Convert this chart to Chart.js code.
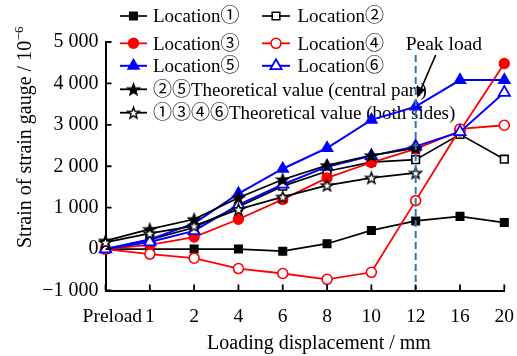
<!DOCTYPE html>
<html><head><meta charset="utf-8">
<script src="https://cdn.jsdelivr.net/npm/chart.js@4.4.0/dist/chart.umd.min.js"></script>
<style>html,body{margin:0;padding:0;background:#fff;}#wrap{width:517px;height:356px;}</style>
</head><body><div id="wrap"><canvas id="c" width="517" height="356"></canvas></div>
<script>
const categories = ['Preload', '1', '2', '4', '6', '8', '10', '12', '16', '20'];
const loc1 = [0, 0, 0, 0, -50, 130, 450, 680, 790, 640];
const loc2 = [0, 230, 520, 1020, 1520, 1880, 2100, 2160, 2770, 2170];
const loc3 = [0, 100, 290, 720, 1200, 1720, 2090, 2420, 2850, 4480];
const loc4 = [0, -120, -220, -470, -590, -730, -560, 1170, 2900, 2990];
const loc5 = [0, 230, 620, 1340, 1940, 2440, 3120, 3440, 4080, 4080];
const loc6 = [0, 170, 440, 1070, 1560, 1990, 2250, 2480, 2830, 3780];
const theoryCentral = [200, 480, 720, 1240, 1680, 2020, 2260, 2440];
const theorySides = [160, 380, 560, 960, 1260, 1540, 1720, 1840];
const yTickLabels = ['\u22121 000', '0', '1 000', '2 000', '3 000', '4 000', '5 000'];
const peakCategory = '12';
const seriesNames = ['Location\u2460', 'Location\u2461', 'Location\u2462', 'Location\u2463', 'Location\u2464', 'Location\u2465',
  '\u2461\u2464Theoretical value (central part)', '\u2460\u2462\u2463\u2465Theoretical value (both sides)'];

const FONT = "'Liberation Serif', 'Times New Roman', 'Noto Sans CJK SC', serif";

function makeStar(filled) {
  const s = 15, c = document.createElement('canvas');
  c.width = s; c.height = s;
  const g = c.getContext('2d');
  const R = 6.0, r = 2.5, cx = s / 2, cy = s / 2 + 0.6;
  g.beginPath();
  for (let i = 0; i < 10; i++) {
    const rad = i % 2 === 0 ? R : r;
    const a = -Math.PI / 2 + i * Math.PI / 5;
    const x = cx + rad * Math.cos(a), y = cy + rad * Math.sin(a);
    i === 0 ? g.moveTo(x, y) : g.lineTo(x, y);
  }
  g.closePath();
  g.fillStyle = filled ? '#000' : '#fff';
  g.fill();
  g.lineWidth = 1.4; g.strokeStyle = '#000'; g.lineJoin = 'miter';
  g.stroke();
  return c;
}
const starFilled = makeStar(true), starOpen = makeStar(false);

const defs = [
  {data: loc1, color: '#000', style: 'rect', fill: '#000', r: 5.4, bw: 1.4, lw: 1.7},
  {data: loc2, color: '#000', style: 'rect', fill: '#fff', r: 5.4, bw: 1.6, lw: 1.7},
  {data: loc3, color: '#ff0000', style: 'circle', fill: '#ff0000', r: 5, bw: 1.4, lw: 1.8},
  {data: loc4, color: '#ff0000', style: 'circle', fill: '#fff', r: 5, bw: 1.6, lw: 1.8},
  {data: loc5, color: '#0000ff', style: 'triangle', fill: '#0000ff', r: 6.5, bw: 1.4, lw: 2},
  {data: loc6, color: '#0000ff', style: 'triangle', fill: '#fff', r: 6.5, bw: 1.8, lw: 2},
  {data: theoryCentral, color: '#000', style: starFilled, fill: '#000', r: 6, bw: 1, lw: 1.8},
  {data: theorySides, color: '#000', style: starOpen, fill: '#fff', r: 6, bw: 1, lw: 1.8},
];

const datasets = defs.map((d, i) => ({
  label: seriesNames[i], data: d.data, borderColor: d.color, backgroundColor: d.fill,
  borderWidth: d.lw, pointStyle: d.style, pointRadius: d.r, pointBorderWidth: d.bw,
  pointBackgroundColor: d.fill, pointBorderColor: d.color, tension: 0, clip: false,
  order: 20 - i, spanGaps: false
}));

const CA = {left: 105.5, right: 504.3, top: 42, bottom: 290.5};

function drawLegendItem(ctx, d, lx0, lx1, y, text, tx) {
  ctx.save();
  ctx.strokeStyle = d.color; ctx.lineWidth = d.lw;
  ctx.beginPath(); ctx.moveTo(lx0, y); ctx.lineTo(lx1, y); ctx.stroke();
  const cx = (lx0 + lx1) / 2;
  if (typeof d.style === 'string') {
    ctx.fillStyle = d.fill; ctx.strokeStyle = d.color; ctx.lineWidth = d.bw;
    Chart.helpers.drawPoint(ctx, {pointStyle: d.style, radius: d.r, borderWidth: d.bw, rotation: 0}, cx, y);
  } else {
    ctx.drawImage(d.style, cx - d.style.width / 2, y - d.style.height / 2);
  }
  ctx.fillStyle = '#000';
  ctx.font = "19px " + FONT;
  ctx.textBaseline = 'middle'; ctx.textAlign = 'left';
  ctx.fillText(text, tx, y + 1.5);
  ctx.restore();
}

const overlay = {
  id: 'overlay',
  beforeDatasetsDraw(chart) {
    const ctx = chart.ctx;
    const leftRows = [[0, 16], [2, 43.3], [4, 65.8], [6, 89.3], [7, 112.7]];
    leftRows.forEach(([i, y]) => drawLegendItem(ctx, defs[i], 120, 147, y, seriesNames[i], 153));
    const rightRows = [[1, 16], [3, 43.3], [5, 65.8]];
    rightRows.forEach(([i, y]) => drawLegendItem(ctx, defs[i], 262, 290, y, seriesNames[i], 297.5));
  },
  afterDatasetsDraw(chart) {
    const ctx = chart.ctx, xs = chart.scales.x, ys = chart.scales.y;
    const px = xs.getPixelForValue(categories.indexOf(peakCategory));
    ctx.save();
    ctx.strokeStyle = '#2a7ab8'; ctx.lineWidth = 2; ctx.setLineDash([7, 4]);
    ctx.beginPath(); ctx.moveTo(px, 55); ctx.lineTo(px, ys.bottom); ctx.stroke();
    ctx.setLineDash([]);
    // arrow
    const x0 = px + 20, y0 = 55, x1 = px + 1.5, y1 = 98;
    const ang = Math.atan2(y1 - y0, x1 - x0);
    ctx.strokeStyle = '#000'; ctx.fillStyle = '#000'; ctx.lineWidth = 1.6;
    ctx.beginPath(); ctx.moveTo(x0, y0); ctx.lineTo(x1 - 8 * Math.cos(ang), y1 - 8 * Math.sin(ang)); ctx.stroke();
    ctx.beginPath();
    ctx.moveTo(x1, y1);
    ctx.lineTo(x1 - 11 * Math.cos(ang) + 4 * Math.sin(ang), y1 - 11 * Math.sin(ang) - 4 * Math.cos(ang));
    ctx.lineTo(x1 - 11 * Math.cos(ang) - 4 * Math.sin(ang), y1 - 11 * Math.sin(ang) + 4 * Math.cos(ang));
    ctx.closePath(); ctx.fill();
    ctx.font = "19.5px " + FONT; ctx.textAlign = 'left'; ctx.textBaseline = 'alphabetic';
    ctx.fillText('Peak load', px - 10, 50);
    ctx.restore();
  },
  afterDraw(chart) {
    const ctx = chart.ctx, xs = chart.scales.x, ys = chart.scales.y;
    ctx.save();
    ctx.strokeStyle = '#000'; ctx.lineWidth = 1.8;
    ctx.beginPath();
    ys.ticks.forEach((t, i) => { const y = ys.getPixelForTick(i); ctx.moveTo(ys.right, y); ctx.lineTo(ys.right + 6, y); });
    xs.ticks.forEach((t, i) => { const x = xs.getPixelForTick(i); ctx.moveTo(x, xs.top); ctx.lineTo(x, xs.top - 6); });
    ctx.stroke();
    // axis titles
    ctx.fillStyle = '#000';
    ctx.font = "20px " + FONT; ctx.textAlign = 'center'; ctx.textBaseline = 'alphabetic';
    ctx.fillText('Loading displacement / mm', 319, 349);
    ctx.translate(31, 137.5); ctx.rotate(-Math.PI / 2);
    const main = 'Strain of strain gauge / 10', sup = '\u22126';
    ctx.font = "20px " + FONT;
    const w1 = ctx.measureText(main).width;
    ctx.font = "13px " + FONT;
    const w2 = ctx.measureText(sup).width;
    const start = -(w1 + w2) / 2;
    ctx.textAlign = 'left';
    ctx.font = "20px " + FONT; ctx.fillText(main, start, 0);
    ctx.font = "13px " + FONT; ctx.fillText(sup, start + w1 + 0.5, -8);
    ctx.restore();
  }
};

new Chart(document.getElementById('c'), {
  type: 'line',
  data: {labels: categories, datasets},
  options: {
    responsive: false, animation: false, devicePixelRatio: 1,
    layout: {padding: {top: CA.top, right: 517 - CA.right, left: 0, bottom: 0}},
    plugins: {legend: {display: false}, tooltip: {enabled: false}},
    scales: {
      x: {
        type: 'category', offset: false,
        grid: {display: false, drawTicks: false},
        border: {display: true, color: '#000', width: 2},
        ticks: {color: '#000', font: {family: FONT, size: 19.5}, padding: 15, maxRotation: 0, autoSkip: false,
          callback: (v, i) => (i === 0 ? '\u2002\u2009' : '') + categories[i]},
        afterFit: s => { s.height = 356 - CA.bottom; s.paddingLeft = 0; s.paddingRight = 0; }
      },
      y: {
        min: -1000, max: 5000,
        grid: {display: false, drawTicks: false},
        border: {display: true, color: '#000', width: 2},
        ticks: {stepSize: 1000, color: '#000', font: {family: FONT, size: 20}, padding: 7,
          callback: (v, i) => yTickLabels[i]},
        afterFit: s => { s.width = CA.left; s.paddingTop = 0; s.paddingBottom = 0; }
      }
    }
  },
  plugins: [overlay]
});
</script></body></html>
